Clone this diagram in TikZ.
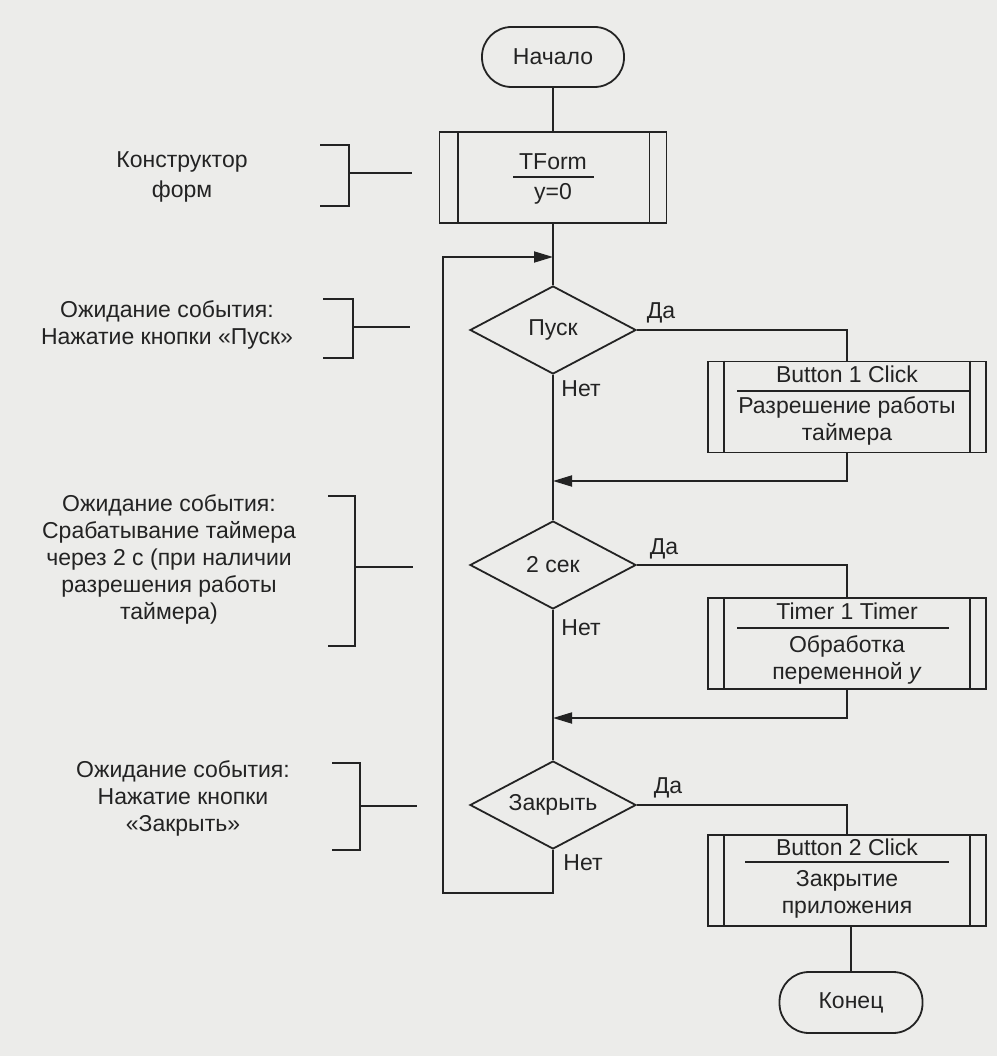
\documentclass[tikz,border=0pt]{standalone}
\usepackage{fontspec}
\setmainfont{Liberation Sans}
\usetikzlibrary{shapes.geometric,arrows.meta,calc}
\definecolor{paper}{RGB}{236,236,234}
\definecolor{ink}{RGB}{35,35,35}
\begin{document}
\begin{tikzpicture}[x=1pt,y=-1pt,line width=1.8pt,color=ink,
  txt/.style={font=\fontsize{23}{27}\selectfont,align=center,inner sep=0pt},
  term/.style={txt,draw,rounded corners=29.5pt,minimum width=142pt,minimum height=60pt},
  proc/.style={draw,minimum width=278pt,minimum height=91pt,inner sep=0pt},
  dec/.style={txt,draw,shape=diamond,aspect=1.9,minimum width=166pt,minimum height=88pt},
  arr/.style={-{Triangle[length=19pt,width=11pt]}},
  brk/.style={line width=1.5pt}]
\fill[paper] (0,0) rectangle (997,1056);
\useasboundingbox (0,0) rectangle (997,1056);

% main column
\node[term] (start) at (553,57) {Начало};
\node[proc,minimum width=227pt] (tform) at (553,177.5) {};
\draw ([xshift=19pt]tform.north west) -- ([xshift=19pt]tform.south west);
\draw ([xshift=-18pt]tform.north east) -- ([xshift=-18pt]tform.south east);
\node[txt] (tft) at (553,162) {TForm};
\draw (513,177) -- (594,177);
\node[txt] (tfy) at (553,194) {y=0};

\coordinate (loopin) at (553,257);
\node[dec] (d1) at (553,330) {Пуск};
\node[dec] (d2) at (553,565) {2 сек};
\node[dec] (d3) at (553,805) {Закрыть};
\coordinate (lb) at (553,893);
\coordinate (lbl) at (443,893);
\coordinate (ltl) at (443,257);

% process boxes
\node[proc] (b1) at (847,407) {};
\node[proc] (b2) at (847,643.5) {};
\node[proc] (b3) at (847,880.5) {};
\foreach \b in {b1,b2,b3}{
  \draw ([xshift=17pt]\b.north west) -- ([xshift=17pt]\b.south west);
  \draw ([xshift=-17pt]\b.north east) -- ([xshift=-17pt]\b.south east);
}
\node[txt] (b1t) at (847,374) {Button 1 Click};
\draw (737,391) -- (969,391);
\node[txt] (b1b) at (847,421) {Разрешение работы\\таймера};
\node[txt] (b2t) at (847,611) {Timer 1 Timer};
\draw (737,628) -- (949,628);
\node[txt] (b2b) at (847,660) {Обработка\\переменной \textit{y}};
\node[txt] (b3t) at (847,847) {Button 2 Click};
\draw (745,862) -- (949,862);
\node[txt] (b3b) at (847,894) {Закрытие\\приложения};

\node[term,minimum width=143pt,minimum height=61pt] (end) at (851,1002.5) {Конец};

\coordinate (r1) at (553,481);
\coordinate (r2) at (553,718);

% connectors
\draw (start) -- (tform);
\draw (tform) -- (d1);
\draw (d1) -- (d2);
\draw (d2) -- (d3);
\draw[arr] (d3.south) -- (lb) -- (lbl) -- (ltl) -- (loopin);
\draw (d1.east) -| (b1.north);
\draw (d2.east) -| (b2.north);
\draw (d3.east) -| (b3.north);
\draw[arr] (b1.south) |- (r1);
\draw[arr] (b2.south) |- (r2);
\draw (b3.south -| end) -- (end.north);

% branch labels
\node[txt] (da1) at (661,313) {Да};
\node[txt] (da2) at (664,549) {Да};
\node[txt] (da3) at (668,788) {Да};
\node[txt] (net1) at (581,389) {Нет};
\node[txt] (net2) at (581,628) {Нет};
\node[txt] (net3) at (583,863) {Нет};

% annotations
\node[txt,font=\fontsize{23}{30}\selectfont] (a1) at (182,177) {Конструктор\\форм};
\draw[brk] (320,145) -- (349,145) -- (349,206) -- (320,206);
\coordinate (a1e) at (412,173);
\draw[brk] (349,173) -- (a1e);

\node[txt] (a2) at (167,325) {Ожидание события:\\Нажатие кнопки «Пуск»};
\draw[brk] (323,299) -- (353,299) -- (353,358) -- (323,358);
\coordinate (a2e) at (410,327);
\draw[brk] (353,327) -- (a2e);

\node[txt] (a3) at (169,559) {Ожидание события:\\Срабатывание таймера\\через 2 с (при наличии\\разрешения работы\\таймера)};
\draw[brk] (328,496) -- (355,496) -- (355,646) -- (328,646);
\coordinate (a3e) at (413,567);
\draw[brk] (355,567) -- (a3e);

\node[txt] (a4) at (183,798) {Ожидание события:\\Нажатие кнопки\\«Закрыть»};
\draw[brk] (332,763) -- (360,763) -- (360,850) -- (332,850);
\coordinate (a4e) at (417,806);
\draw[brk] (360,806) -- (a4e);
\end{tikzpicture}
\end{document}
